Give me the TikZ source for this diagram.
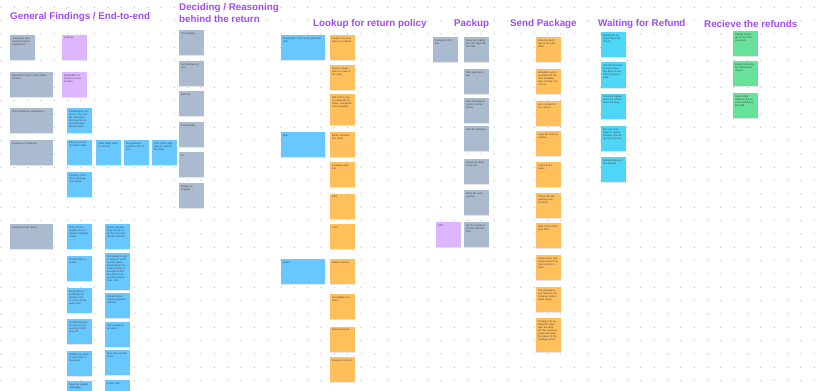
\documentclass[tikz,border=0pt]{standalone}
\usepackage{fontspec}
\setmainfont{Liberation Sans}
\definecolor{headpurple}{RGB}{163,76,245}
\definecolor{graynote}{RGB}{171,187,207}
\definecolor{lilacnote}{RGB}{222,182,255}
\definecolor{bluenote}{RGB}{102,200,255}
\definecolor{orangenote}{RGB}{255,192,92}
\definecolor{cyannote}{RGB}{77,214,245}
\definecolor{greennote}{RGB}{102,226,155}
\definecolor{dotgray}{RGB}{185,185,185}

\tikzset{
  title/.style={font=\bfseries\fontsize{9.8}{12}\selectfont, text=headpurple, inner sep=0pt},
  note/.style={inner sep=0pt, anchor=north west},
  notetext/.style={anchor=north west, inner sep=2pt, align=left, text=black!75,
    font=\fontsize{2.5}{3}\selectfont},
}

% sticky note: name, x, y, width, height, colour, text
\newcommand{\sticky}[7]{%
  \fill[black!10] (#2-0.3,#3+0.3) rectangle (#2+#4+0.3,#3+#5+1.2);
  \node[note, fill=#6, minimum width=#4pt, minimum height=#5pt] (#1) at (#2,#3) {};
  \pgfmathsetmacro{\tw}{#4-5}
  \node[notetext, text width=\tw pt] (#1-t) at (#1.north west) {#7};
}

\begin{document}
\begin{tikzpicture}[x=1pt, y=-1pt]

\fill[white] (0,0) rectangle (817,391);
\useasboundingbox (0,0) rectangle (817,391);

% dot grid
\foreach \i in {0,...,61} {
  \foreach \j in {0,...,29} {
    \fill[dotgray] (1+13.33*\i, 7.3+13.33*\j) circle (0.65);
  }
}

% titles
\node[title, anchor=west] (t-general) at (10,17) {General Findings / End-to-end};
\node[title, anchor=north west, align=left] (t-deciding) at (179,3) {Deciding / Reasoning\\behind the return};
\node[title, anchor=west] (t-lookup) at (313,23.5) {Lookup for return policy};
\node[title, anchor=west] (t-packup) at (454,24) {Packup};
\node[title, anchor=west] (t-send) at (510,24) {Send Package};
\node[title, anchor=west] (t-waiting) at (598,23.5) {Waiting for Refund};
\node[title, anchor=west] (t-receive) at (704,24) {Recieve the refunds};

% general findings
\sticky{gen-g1}{10}{35}{25}{25}{graynote}{Individuals offering good returns experiences}
\sticky{gen-p1}{62}{35}{25}{25}{lilacnote}{Amazon}
\sticky{gen-g2}{10}{72}{43}{25}{graynote}{Expected to get it in the return process}
\sticky{gen-p2}{62}{72}{25}{25}{lilacnote}{Dependent on the price of the product}
\sticky{gen-g3}{10}{108}{43}{25}{graynote}{First impression expectation}
\sticky{gen-b1}{67}{108}{25}{25}{bluenote}{Would expect the return to be simple and quick, like how the order itself was placed online}
\sticky{gen-g4}{10}{140}{43}{25}{graynote}{Features of (products)}
\foreach \x/\txt [count=\i] in {67/{Easy access to the return label},
    96/{Clear steps listed on the site},
    124/{No questions asked for the return},
    152/{Free return shipping for most of the items}} {
  \sticky{gen-row-\i}{\x}{140}{25}{25}{bluenote}{\txt}
}
\sticky{gen-b6}{67}{172}{25}{25}{bluenote}{Tracking of the return package and refund}
\sticky{gen-g5}{10}{224}{43}{25}{graynote}{Features of the return}
\foreach \y/\txt [count=\i] in {224/{Drop off at a nearby store instead of shipping it back},
    256/{Printed label included},
    288/{Being able to exchange for another size or colour of the same item},
    319/{A refund issued as soon as it is scanned at the drop off},
    351/{Updates by email at each step of the return},
    381/{Keep the original packaging}} {
  \sticky{gen-a-\i}{67}{\y}{25}{25}{bluenote}{\txt}
}
\foreach \y/\h/\txt [count=\i] in {224/25/{Return window long enough to try the item and decide at home},
    253/37/{Not having to talk to anyone; a self service return portal where the order number is enough to start the return and pick the reason from a list},
    293/25/{Refund to the original payment method},
    322/25/{Store credit as an option},
    350/25/{Free pick up from home},
    380/25/{A QR code}} {
  \sticky{gen-c-\i}{105}{\y}{25}{\h}{bluenote}{\txt}
}

% deciding / reasoning
\foreach \y/\txt [count=\i] in {30/{Price/Quality}, 61/{Incorrect/wrong size},
    91/{Fit/Look}, 122/{Functionality}, 152/{Fit}, 183/{Broken on shipped}} {
  \sticky{dec-\i}{179}{\y}{25}{25}{graynote}{\txt}
}

% lookup for return policy
\sticky{look-b1}{281}{35}{44}{25}{bluenote}{Finding the return policy (via website)}
\sticky{look-b2}{281}{132}{44}{25}{bluenote}{Mail}
\sticky{look-b3}{281}{259}{44}{25}{bluenote}{Retail}
\foreach \y/\h/\txt [count=\i] in {35/25/{Search for return policy on website},
    65/25/{Returns dependent on scale of the order},
    94/31/{Will look for policy, depends on scale, sometimes when emailing},
    132/25/{Email confirmation email},
    162/25/{Company website},
    194/25/{FAQ},
    224/25/{Chat},
    259/25/{Return window},
    294/25/{Acceptable condition},
    327/25/{Return process},
    357/25/{Receipt of refund}} {
  \sticky{look-o-\i}{330}{\y}{25}{\h}{orangenote}{\txt}
}

% packup
\sticky{pack-g0}{433}{37}{25}{25}{graynote}{Packing in the box}
\foreach \y/\txt [count=\i] in {37/{Keep the original box and tags with the item},
    69/{Find tape and a box},
    98/{Print the label at home or at the library},
    126/{Seal the package},
    159/{Attach the label to the box},
    190/{Write the order number},
    222/{Put the receipt in the box with the item}} {
  \sticky{pack-\i}{464}{\y}{25}{25}{graynote}{\txt}
}
\sticky{pack-p1}{436}{222}{25}{25}{lilacnote}{Gifts}

% send package
\foreach \y/\h/\txt [count=\i] in {37/25/{Drop the package at the post office},
    69/25/{Schedule a pick up online for the next available day, or bring it to a store},
    101/25/{Get a receipt at the counter},
    131/25/{Keep the tracking number},
    162/25/{Drop off at a locker},
    193/25/{Check that the package was scanned},
    223/25/{Wait in line at the post office},
    255/25/{Some shops only accept returns by mail and not in store},
    287/25/{The package is sent back by the cheapest option, takes longer},
    318/34/{Tracking not updated for days after the drop off; the customer keeps checking the status of the package online}} {
  \sticky{send-\i}{536}{\y}{25}{\h}{orangenote}{\txt}
}

% waiting for refund
\foreach \y/\h/\txt [count=\i] in {32/25/{Waiting for an email about the refund},
    62/26/{Checks the bank account every few days to see if the money is back},
    94/25/{Contacts support when the refund takes too long},
    126/25/{Not sure how long the refund will take, the policy does not say},
    157/25/{Refund status on the website}} {
  \sticky{wait-\i}{601}{\y}{25}{\h}{cyannote}{\txt}
}

% receive the refunds
\foreach \y/\txt [count=\i] in {31/{Refund shows up on the card statement},
    61/{Email confirming the refund was issued},
    93/{Store credit added to the account instead of the card}} {
  \sticky{recv-\i}{733}{\y}{25}{25}{greennote}{\txt}
}

\end{tikzpicture}
\end{document}
